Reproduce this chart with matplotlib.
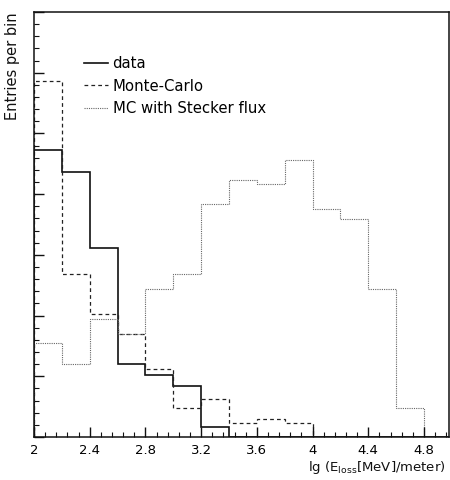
import numpy as np
import matplotlib
matplotlib.use("Agg")
import matplotlib.pyplot as plt
from matplotlib.ticker import MultipleLocator

# Histogram bin edges in lg(E_loss [MeV]/meter)
bin_edges = [2.0, 2.2, 2.4, 2.6, 2.8, 3.0, 3.2, 3.4, 3.6, 3.8, 4.0, 4.2, 4.4, 4.6, 4.8, 5.0]

# Entries per bin (arbitrary units)
data_counts = [47.2, 43.6, 31.2, 12.0, 10.2, 8.4, 1.6, 0, 0, 0, 0, 0, 0, 0, 0]
mc_counts = [58.7, 26.8, 20.2, 16.9, 11.2, 4.8, 6.3, 2.3, 3.0, 2.3, 0, 0, 0, 0, 0]
stecker_counts = [15.5, 12.0, 19.4, 16.9, 24.3, 26.8, 38.3, 42.3, 41.6, 45.7,
                  37.5, 35.9, 24.3, 4.8, 0]

series_labels = ["data", "Monte-Carlo", "MC with Stecker flux"]
x_ticks = [2.0, 2.4, 2.8, 3.2, 3.6, 4.0, 4.4, 4.8]
x_tick_labels = ["2", "2.4", "2.8", "3.2", "3.6", "4", "4.4", "4.8"]

plt.rcParams["font.family"] = ["DejaVu Sans"]

fig = plt.figure(figsize=(4.5, 4.8), dpi=100)
ax = fig.add_axes([34 / 450, 43 / 480, 415 / 450, 425 / 480])

ax.stairs(data_counts, bin_edges, baseline=0, color="#111111", lw=1.2,
          linestyle="-", label=series_labels[0])
ax.stairs(mc_counts, bin_edges, baseline=0, color="#222222", lw=0.9,
          linestyle=(0, (3, 2.5)), label=series_labels[1])
ax.stairs(stecker_counts, bin_edges, baseline=0, color="#666666", lw=0.8,
          linestyle=(0, (1, 1)), label=series_labels[2])

ax.set_xlim(2.0, 4.98)
ax.set_ylim(0, 70)

ax.set_xticks(x_ticks)
ax.set_xticklabels(x_tick_labels)
ax.xaxis.set_minor_locator(MultipleLocator(0.08))
ax.yaxis.set_major_locator(MultipleLocator(10))
ax.yaxis.set_minor_locator(MultipleLocator(2))
ax.set_yticklabels([])

ax.tick_params(which="both", direction="in", top=False, right=False, color="#111111")
ax.tick_params(which="major", length=7, width=1.0, labelsize=9.5, pad=5)
ax.tick_params(which="minor", length=3.5, width=0.8)

for side in ["left", "bottom", "top", "right"]:
    ax.spines[side].set_linewidth(1.1)
    ax.spines[side].set_color("#111111")

leg = ax.legend(loc="upper left", bbox_to_anchor=(0.107, 0.91), frameon=False,
                fontsize=10.7, handlelength=1.6, handletextpad=0.3,
                labelspacing=0.5, borderaxespad=0)

fig.text(13 / 450, 1 - 12 / 480, "Entries per bin", rotation=90,
         ha="center", va="top", fontsize=10.5, color="#111111")
fig.text(446 / 450, 1 - 467 / 480, r"lg (E$_{\mathrm{loss}}$[MeV]/meter)",
         ha="right", va="center", fontsize=9.5, color="#111111")

fig.savefig("out.png", dpi=100)
